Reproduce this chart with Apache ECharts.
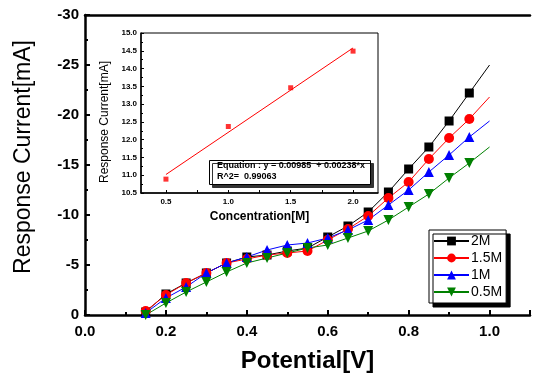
<!DOCTYPE html>
<html>
<head>
<meta charset="utf-8">
<script src="https://cdn.jsdelivr.net/npm/echarts@6/dist/echarts.min.js"></script>
<style>
  html, body { margin: 0; padding: 0; background: #fff; }
  #chart { width: 533px; height: 378px; }
</style>
</head>
<body>
<div id="chart"></div>
<script>
// main plot: potential sweep, one current per concentration
const potentials = [0.15, 0.20, 0.25, 0.30, 0.35, 0.40, 0.45, 0.50, 0.55, 0.60, 0.65, 0.70, 0.75, 0.80, 0.85, 0.90, 0.95, 1.00];
const current2M   = [-0.3, -2.1, -3.2, -4.2, -5.2, -5.8, -6.0, -6.4, -6.7, -7.8, -8.9, -10.3, -12.3, -14.6, -16.8, -19.4, -22.2, -25.0];
const current15M  = [-0.4, -2.0, -3.2, -4.2, -5.2, -5.6, -6.0, -6.2, -6.4, -7.5, -8.6, -9.9, -11.7, -13.3, -15.6, -17.7, -19.6, -21.8];
const current1M   = [-0.2, -1.7, -2.8, -4.2, -5.2, -5.8, -6.5, -7.0, -7.2, -7.7, -8.5, -9.5, -11.0, -12.5, -14.3, -16.0, -17.8, -19.4];
const current05M  = [0.0, -1.2, -2.3, -3.3, -4.3, -5.2, -5.7, -6.2, -6.7, -7.0, -7.7, -8.4, -9.5, -10.8, -12.1, -13.7, -15.2, -16.8];
const seriesNames = ["2M", "1.5M", "1M", "0.5M"];

// inset: calibration at fixed potential
const concentrations = [0.5, 1.0, 1.5, 2.0];
const insetCurrent = [10.89, 12.37, 13.46, 14.49];
const fitX = [0.5, 2.0];
const fitY = [11.02, 14.58];

const FONT = "Arial, 'Liberation Sans', sans-serif";

const chart = echarts.init(document.getElementById("chart"));

function curve(values) {
    // last point has no marker
    return potentials.map((v, i) =>
        i === potentials.length - 1 ? { value: [v, values[i]], symbol: "none" } : [v, values[i]]
    );
}

function lineSeries(name, values, color, symbol, size) {
    return {
        name,
        type: "line",
        xAxisIndex: 0,
        yAxisIndex: 0,
        data: curve(values),
        symbol,
        symbolSize: size,
        showAllSymbol: true,
        color,
        lineStyle: { width: 1, color },
        itemStyle: { color },
        emphasis: { disabled: true },
        z: 3,
    };
}

const option = {
    animation: false,
    textStyle: { fontFamily: FONT, color: "#000" },
    grid: [
        { left: 85, top: 15, right: 0, bottom: 63 },
        {
            left: 141, top: 33, width: 237, height: 160,
            show: true, backgroundColor: "#fff", borderColor: "#000", borderWidth: 1, z: 5,
        },
    ],
    xAxis: [
        {
            gridIndex: 0,
            type: "value",
            min: 0, max: 1.1, interval: 0.2,
            name: "Potential[V]",
            nameLocation: "middle",
            nameGap: 34,
            nameTextStyle: { fontSize: 24, fontWeight: "bold", fontFamily: FONT, color: "#000" },
            axisLine: { lineStyle: { color: "#000", width: 2.5 } },
            axisTick: { inside: true, length: 5, lineStyle: { width: 2, color: "#000" } },
            minorTick: { show: true, splitNumber: 2, length: 3, lineStyle: { width: 2, color: "#000" } },
            axisLabel: {
                fontSize: 15, fontWeight: "bold", color: "#000", margin: 9,
                formatter: (v) => (v > 1.05 ? "" : v.toFixed(1)),
            },
            splitLine: { show: false },
        },
        {
            gridIndex: 0,
            type: "value",
            position: "top",
            min: 0, max: 1.1,
            axisLine: { show: true, onZero: false, lineStyle: { color: "#000", width: 2.5 } },
            axisTick: { show: false },
            axisLabel: { show: false },
            splitLine: { show: false },
        },
        {
            gridIndex: 1,
            type: "value",
            min: 0.3, max: 2.2,
            name: "Concentration[M]",
            nameLocation: "middle",
            nameGap: 18,
            nameTextStyle: { fontSize: 12, fontWeight: "bold", fontFamily: FONT, color: "#000" },
            axisLine: { lineStyle: { color: "#000", width: 1.5 } },
            axisTick: {
                inside: true, length: 3, lineStyle: { color: "#000" },
                customValues: [0.5, 0.75, 1.0, 1.25, 1.5, 1.75, 2.0],
            },
            axisLabel: {
                fontSize: 8, fontWeight: "bold", color: "#000", margin: 5,
                customValues: [0.5, 1.0, 1.5, 2.0],
                formatter: (v) => v.toFixed(1),
            },
            splitLine: { show: false },
            z: 6,
        },
    ],
    yAxis: [
        {
            gridIndex: 0,
            type: "value",
            inverse: true,
            min: -30, max: 0, interval: 5,
            name: "Response Current[mA]",
            nameLocation: "middle",
            nameGap: 50,
            nameTextStyle: { fontSize: 23, fontFamily: FONT, color: "#000", padding: [0, 0, 0, 16] },
            axisLine: { lineStyle: { color: "#000", width: 2.5 } },
            axisTick: { inside: true, length: 5, lineStyle: { width: 2, color: "#000" } },
            minorTick: { show: true, splitNumber: 2, length: 3, lineStyle: { width: 2, color: "#000" } },
            axisLabel: { fontSize: 15, fontWeight: "bold", color: "#000", margin: 6 },
            splitLine: { show: false },
        },
        {
            gridIndex: 1,
            type: "value",
            min: 10.5, max: 15, interval: 0.5,
            name: "Response Current[mA]",
            nameLocation: "middle",
            nameGap: 30,
            nameTextStyle: { fontSize: 12, fontFamily: FONT, color: "#000", padding: [0, 18, 0, 0] },
            axisLine: { lineStyle: { color: "#000", width: 1.5 } },
            axisTick: { inside: true, length: 3, lineStyle: { color: "#000" } },
            minorTick: { show: true, splitNumber: 2, length: 2, lineStyle: { color: "#000" } },
            axisLabel: {
                fontSize: 8, fontWeight: "bold", color: "#000", margin: 4,
                formatter: (v) => v.toFixed(1),
            },
            splitLine: { show: false },
            z: 6,
        },
    ],
    legend: {
        data: seriesNames,
        orient: "vertical",
        left: 429,
        top: 230,
        padding: [4, 4, 4, 4],
        itemWidth: 35,
        itemHeight: 11,
        itemGap: 3,
        backgroundColor: "#fff",
        borderColor: "#000",
        borderWidth: 1,
        shadowColor: "#000",
        shadowBlur: 0,
        shadowOffsetX: 4,
        shadowOffsetY: 4,
        textStyle: { fontSize: 14, fontFamily: FONT, color: "#000", padding: [0, 0, 0, -3] },
    },
    graphic: [
        {
            type: "rect",
            left: 209,
            top: 160,
            z: 50,
            shape: { width: 161, height: 24 },
            style: {
                fill: "#fff", stroke: "#000", lineWidth: 1,
                shadowColor: "#333", shadowBlur: 0, shadowOffsetX: 3, shadowOffsetY: 3,
            },
        },
        {
            type: "text",
            left: 217,
            top: 161,
            z: 51,
            style: {
                text: "Equation : y = 0.00985  + 0.00238*x",
                font: "bold 9px " + FONT, fill: "#000",
            },
        },
        {
            type: "text",
            left: 217,
            top: 172,
            z: 51,
            style: {
                text: "R^2=  0.99063",
                font: "bold 9px " + FONT, fill: "#000",
            },
        },
    ],
    series: [
        lineSeries(seriesNames[0], current2M, "#000000", "rect", 9),
        lineSeries(seriesNames[1], current15M, "#ff0000", "circle", 10),
        lineSeries(seriesNames[2], current1M, "#0000ff", "triangle", 10),
        lineSeries(seriesNames[3], current05M, "#008000", "path://M0,0L10,0L5,9Z", 10),
        {
            name: "fit",
            type: "line",
            xAxisIndex: 2,
            yAxisIndex: 1,
            data: fitX.map((x, i) => [x, fitY[i]]),
            symbol: "none",
            lineStyle: { color: "#ff0000", width: 1 },
            z: 10,
        },
        {
            name: "calibration",
            type: "scatter",
            xAxisIndex: 2,
            yAxisIndex: 1,
            data: concentrations.map((x, i) => [x, insetCurrent[i]]),
            symbol: "rect",
            symbolSize: 5,
            itemStyle: { color: "#ff0000" },
            z: 11,
        },
    ],
};

chart.setOption(option);
</script>
</body>
</html>
